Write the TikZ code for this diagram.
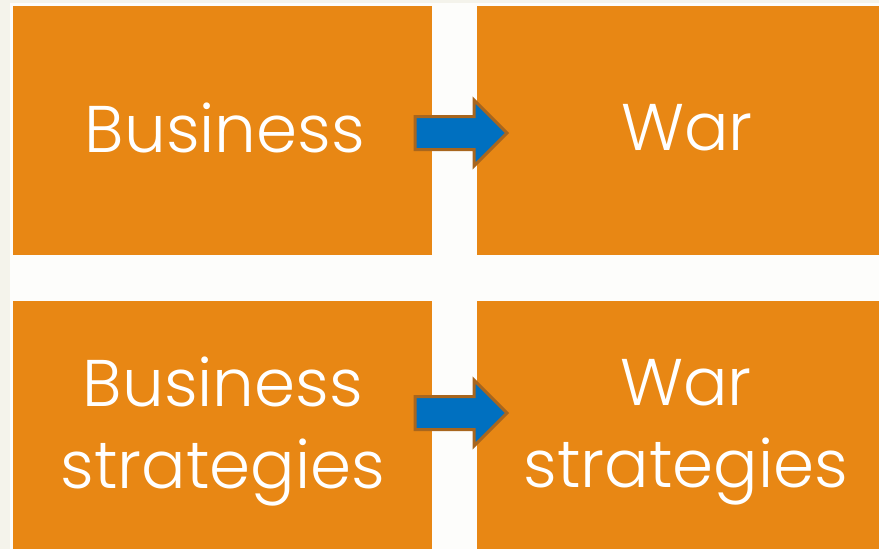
\documentclass[tikz,border=0pt]{standalone}
\usepackage{fontspec}
\setmainfont{Poppins}[UprightFont=* Light]
\usetikzlibrary{shapes.arrows}
\definecolor{bgcream}{RGB}{244,243,235}
\definecolor{bgwhite}{RGB}{253,253,251}
\definecolor{boxorange}{RGB}{232,135,20}
\definecolor{arrowblue}{RGB}{0,112,192}
\definecolor{arrowbrown}{RGB}{168,102,30}
\tikzset{
  box/.style={fill=boxorange, draw=none, minimum width=419pt, minimum height=249pt,
    inner sep=0pt},
  boxtext/.style={text=white, align=center, inner sep=0pt,
    font=\fontsize{66}{82}\selectfont},
  blockarrow/.style={single arrow, fill=arrowblue, draw=arrowbrown, line width=3pt,
    minimum height=92pt, inner xsep=0pt, inner ysep=15pt,
    single arrow head extend=16.5pt, single arrow head indent=0pt, anchor=tail}
}
\begin{document}
\begin{tikzpicture}[x=1pt,y=-1pt]
\useasboundingbox (0,0) rectangle (879,549);
\clip (0,0) rectangle (879,549);
\fill[bgcream] (0,0) rectangle (879,549);
\fill[bgwhite] (10,3) rectangle (879,549);
\node[box] (bus) at (222.5,130.5) {};
\node[box] (war) at (686.5,130.5) {};
\node[box] (busstr) at (222.5,425.5) {};
\node[box] (warstr) at (686.5,425.5) {};
\node[boxtext] (tbus) at (225,128) {Business};
\node[boxtext] (twar) at (687,128) {War};
\node[boxtext] (tbusstr) at (223,432) {Business\\strategies};
\node[boxtext] (twarstr) at (686,432) {War\\strategies};
\node[blockarrow] (a1) at (413.5,133) {};
\node[blockarrow] (a2) at (413.5,413) {};
\end{tikzpicture}
\end{document}
